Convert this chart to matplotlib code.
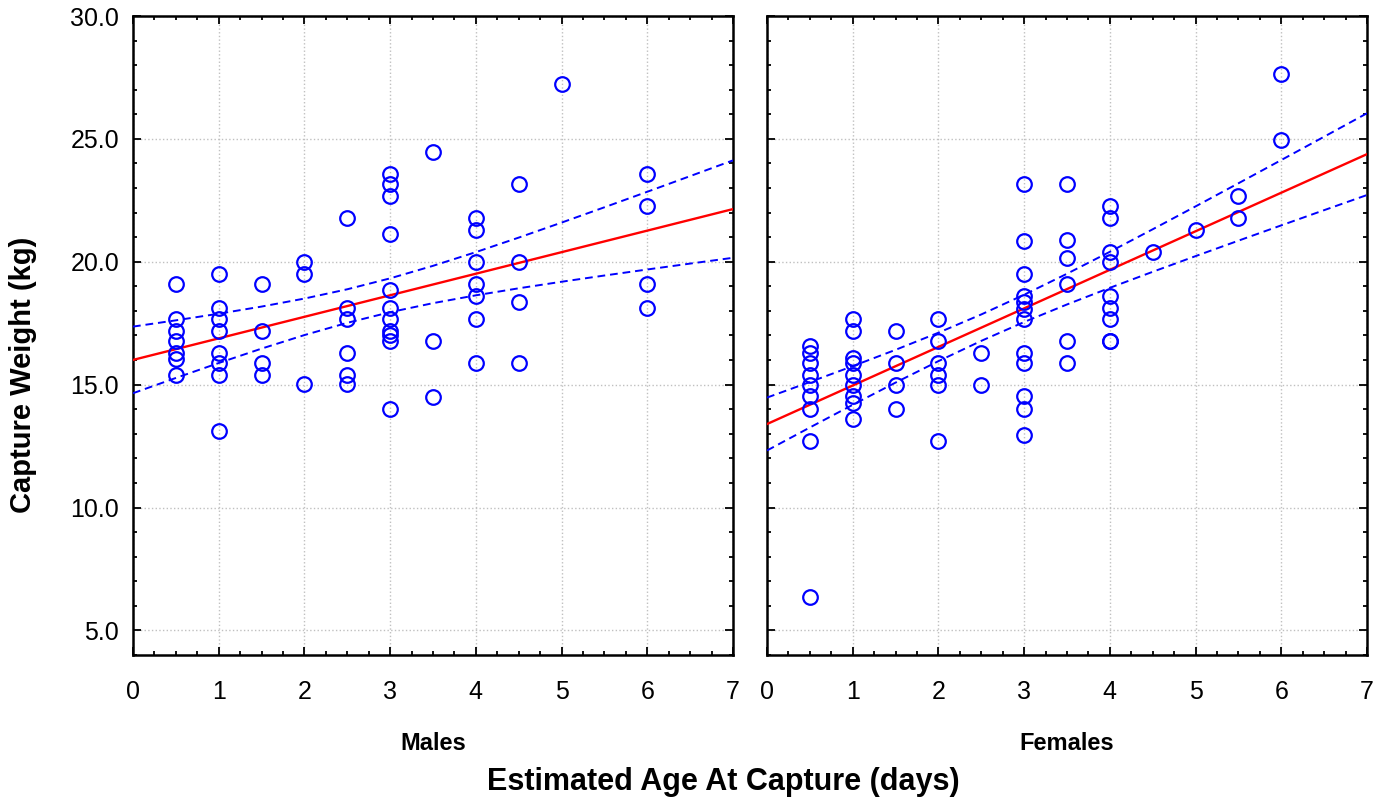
import numpy as np
import matplotlib.pyplot as plt
from matplotlib.ticker import MultipleLocator

# Males: estimated age (days) and capture weight (kg)
male_age = [0.5] * 7 + [1] * 8 + [1.5] * 4 + [2] * 3 + [2.5] * 6 + [3] * 11 \
    + [3.5] * 3 + [4] * 7 + [4.5] * 4 + [5] * 1 + [6] * 4
male_weight = [
    19.08, 17.69, 17.20, 16.78, 16.30, 16.06, 15.40,
    19.49, 18.10, 17.69, 17.20, 16.30, 15.89, 15.40, 13.13,
    19.08, 17.20, 15.89, 15.40,
    19.99, 19.49, 15.01,
    21.78, 18.10, 17.69, 16.30, 15.40, 15.01,
    23.57, 23.15, 22.69, 21.12, 18.85, 18.10, 17.69, 17.20, 17.04, 16.78, 14.02,
    24.47, 16.79, 14.51,
    21.78, 21.29, 19.99, 19.08, 18.59, 17.69, 15.89,
    23.17, 19.99, 18.35, 15.89,
    27.25,
    23.57, 22.27, 19.08, 18.10,
]

# Females
female_age = [0.5] * 9 + [1] * 9 + [1.5] * 4 + [2] * 6 + [2.5] * 2 + [3] * 12 \
    + [3.5] * 6 + [4] * 9 + [4.5] * 1 + [5] * 1 + [5.5] * 2 + [6] * 2
female_weight = [
    16.57, 16.30, 15.89, 15.40, 15.00, 14.53, 14.02, 12.72, 6.34,
    17.69, 17.20, 16.08, 15.89, 15.40, 15.00, 14.53, 14.26, 13.61,
    17.20, 15.89, 15.00, 14.02,
    17.69, 16.79, 15.89, 15.40, 15.00, 12.72,
    16.30, 15.00,
    23.15, 20.85, 19.50, 18.62, 18.35, 18.07, 17.69, 16.30, 15.89, 14.53, 14.02, 12.95,
    23.17, 20.88, 20.14, 19.08, 16.79, 15.89,
    22.27, 21.78, 20.39, 19.98, 18.59, 18.10, 17.69, 16.79, 16.79,
    20.39,
    21.29,
    22.68, 21.78,
    27.66, 24.96,
]

panel_titles = ["Males", "Females"]
x_ticks = [0, 1, 2, 3, 4, 5, 6, 7]
y_ticks = [5, 10, 15, 20, 25, 30]

# weights below this are treated as outliers and left out of the fit
outlier_cut = 10.0

label_font = ['Liberation Sans', 'DejaVu Sans']
tick_font = ['Liberation Sans', 'DejaVu Sans']


# Linear fit with 95% confidence band for the mean
def fit_band(x, y, grid):
    x = np.asarray(x, float)
    y = np.asarray(y, float)
    keep = y >= outlier_cut
    x, y = x[keep], y[keep]
    n = len(x)
    b, a = np.polyfit(x, y, 1)
    resid = y - (a + b * x)
    s = np.sqrt(np.sum(resid ** 2) / (n - 2))
    sxx = np.sum((x - x.mean()) ** 2)
    t = 1.997
    fit = a + b * grid
    half = t * s * np.sqrt(1.0 / n + (grid - x.mean()) ** 2 / sxx)
    return fit, fit - half, fit + half


fig = plt.figure(figsize=(13.85, 8.01), dpi=100)
ax1 = fig.add_axes([0.096, 0.1823, 0.4332, 0.7977])
ax2 = fig.add_axes([0.5538, 0.1823, 0.4332, 0.7977])

grid_x = np.arange(0, 7.01, 0.5)

for ax, ages, weights, title in [
    (ax1, male_age, male_weight, panel_titles[0]),
    (ax2, female_age, female_weight, panel_titles[1]),
]:
    ax.plot(ages, weights, 'o', markersize=10.5, markerfacecolor='none',
            markeredgecolor='#0000ff', markeredgewidth=1.6, zorder=4)

    fit, lo, hi = fit_band(ages, weights, grid_x)
    ax.plot(grid_x, fit, color='#ff0000', linewidth=1.7, zorder=3)
    ax.plot(grid_x, lo, color='#0000ff', linewidth=1.4, dashes=(4, 2.5), zorder=3)
    ax.plot(grid_x, hi, color='#0000ff', linewidth=1.4, dashes=(4, 2.5), zorder=3)

    ax.set_xlim(0, 7)
    ax.set_ylim(4, 30)
    ax.set_xticks(x_ticks)
    ax.set_yticks(y_ticks)
    ax.xaxis.set_minor_locator(MultipleLocator(0.25))
    ax.yaxis.set_minor_locator(MultipleLocator(1))
    ax.tick_params(which='both', direction='in', top=True, right=True,
                   color='black', width=1.3)
    ax.tick_params(which='major', length=6, labelsize=18, pad=18)
    ax.tick_params(which='minor', length=3)
    ax.grid(True, which='major', color='#c0c0c0', linestyle=':', linewidth=1.0)
    for sp in ax.spines.values():
        sp.set_linewidth(1.8)
    for lab in ax.get_xticklabels() + ax.get_yticklabels():
        lab.set_family(tick_font)
    ax.set_xlabel(title, fontsize=17, fontweight='bold', family=label_font,
                  labelpad=20)

ax1.yaxis.set_major_formatter(plt.FormatStrFormatter('%.1f'))
ax1.tick_params(axis='y', pad=10)
ax2.tick_params(axis='y', labelleft=False)
ax1.set_ylabel("Capture Weight (kg)", fontsize=21, fontweight='bold',
               family=label_font)
ax1.yaxis.set_label_coords(-0.16, 0.438)

fig.text(0.522, 0.024, "Estimated Age At Capture (days)", ha='center',
         va='center', fontsize=22, fontweight='bold', family=label_font)

fig.savefig("out.png", dpi=100)
